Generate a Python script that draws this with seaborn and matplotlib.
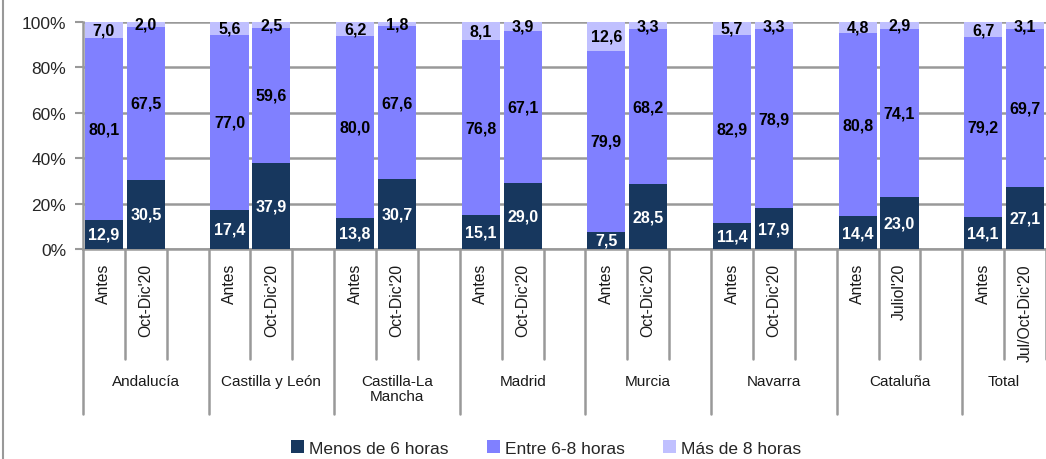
import matplotlib
matplotlib.use("Agg")
import matplotlib.pyplot as plt
import matplotlib.transforms as mtransforms
from matplotlib.lines import Line2D
from matplotlib.patches import Patch
import seaborn as sns
import pandas as pd
import numpy as np

regions = ["Andalucía", "Castilla y León", "Castilla-La\nMancha", "Madrid",
           "Murcia", "Navarra", "Cataluña", "Total"]
periods = ["Antes", "Oct-Dic'20", "Antes", "Oct-Dic'20", "Antes", "Oct-Dic'20",
           "Antes", "Oct-Dic'20", "Antes", "Oct-Dic'20", "Antes", "Oct-Dic'20",
           "Antes", "Juliol'20", "Antes", "Jul/Oct-Dic'20"]
menos = [12.9, 30.5, 17.4, 37.9, 13.8, 30.7, 15.1, 29.0,
         7.5, 28.5, 11.4, 17.9, 14.4, 23.0, 14.1, 27.1]
entre = [80.1, 67.5, 77.0, 59.6, 80.0, 67.6, 76.8, 67.1,
         79.9, 68.2, 82.9, 78.9, 80.8, 74.1, 79.2, 69.7]
mas = [7.0, 2.0, 5.6, 2.5, 6.2, 1.8, 8.1, 3.9,
       12.6, 3.3, 5.7, 3.3, 4.8, 2.9, 6.7, 3.1]
series_names = ["Menos de 6 horas", "Entre 6-8 horas", "Más de 8 horas"]
colors = ["#17375E", "#8080FF", "#C0C0FF"]

sns.set_theme(style="white")
plt.rcParams['font.family'] = ['Liberation Sans Narrow', 'Liberation Sans', 'DejaVu Sans']

n = len(menos)
pos = [3 * (i // 2) + (i % 2) for i in range(n)]
m = np.array(menos); e = np.array(entre); s = np.array(mas)
tot = m + e + s
df = pd.DataFrame({
    "pos": pos,
    "c1": m / tot * 100,
    "c2": (m + e) / tot * 100,
    "c3": np.full(n, 100.0),
})

fig = plt.figure(figsize=(10.46, 4.6), dpi=100)
ax = fig.add_axes([83 / 1046, 210 / 460, (1046 - 83) / 1046, 227 / 460])

for col, c in zip(["c3", "c2", "c1"], colors[::-1]):
    sns.barplot(data=df, x="pos", y=col, native_scale=True, color=c,
                width=0.91, saturation=1, ax=ax, linewidth=0, zorder=3)

ax.set_xlim(-0.5, 22.5)
ax.set_ylim(0, 100)
ax.set_yticks([0, 20, 40, 60, 80, 100])
ax.set_yticklabels([f"{v}%" for v in [0, 20, 40, 60, 80, 100]], fontsize=12.5)
ax.set_xticks(pos)
ax.set_xticklabels(periods, rotation=90, fontsize=11.3, va="top", color="#1a1a1a")
ax.tick_params(axis="x", length=0, pad=10)
ax.tick_params(axis="y", length=6, width=1.5, color="#999999", direction="out", pad=6, left=True)
ax.set_xlabel(""); ax.set_ylabel("")
ax.grid(axis="y", color="#999999", linewidth=1.8, zorder=0)
ax.set_axisbelow(True)
for sp in ["top", "right"]:
    ax.spines[sp].set_visible(False)
for sp in ["left", "bottom"]:
    ax.spines[sp].set_color("#999999")
    ax.spines[sp].set_linewidth(1.8)

# value labels
for i in range(n):
    x = pos[i]
    b = [0, df.c1[i], df.c2[i], 100]
    vals = [menos[i], entre[i], mas[i]]
    for k in range(3):
        yc = (b[k] + b[k + 1]) / 2
        ax.text(x, yc, f"{vals[k]:.1f}".replace(".", ","), ha="center", va="center",
                fontsize=11.5, fontweight="bold",
                color="white" if k == 0 else "black", zorder=5)

# category separator lines
trans = mtransforms.blended_transform_factory(ax.transData, ax.transAxes)
per_px = 1 / 227
for b in np.arange(-0.5, 23, 1.0):
    g_edge = (b + 0.5) % 3 == 0
    low = -(415 - 250) * per_px if g_edge else -(360 - 250) * per_px
    ax.add_line(Line2D([b, b], [0, low], transform=trans, color="#999999",
                       linewidth=1.8, clip_on=False))

for g, name in enumerate(regions):
    start = 3 * g - 0.5
    end = min(3 * g + 2.5, 22.5)
    ax.text((start + end) / 2, -(375 - 250) * per_px, name, transform=trans,
            ha="center", va="top", fontsize=11, color="#1a1a1a", linespacing=1.1)

# legend
handles = [Patch(facecolor=c, edgecolor="none") for c in colors]
fig.legend(handles, series_names, loc="center", bbox_to_anchor=(546 / 1046, 1 - 449 / 460),
           ncol=3, frameon=False, fontsize=12.5, handlelength=0.75, handleheight=0.75,
           handletextpad=0.3, columnspacing=2.2)

# left frame line
fig.add_artist(Line2D([3 / 1046, 3 / 1046], [0, 1], transform=fig.transFigure,
                      color="#999999", linewidth=1.5))

fig.savefig("out.png", dpi=100)
